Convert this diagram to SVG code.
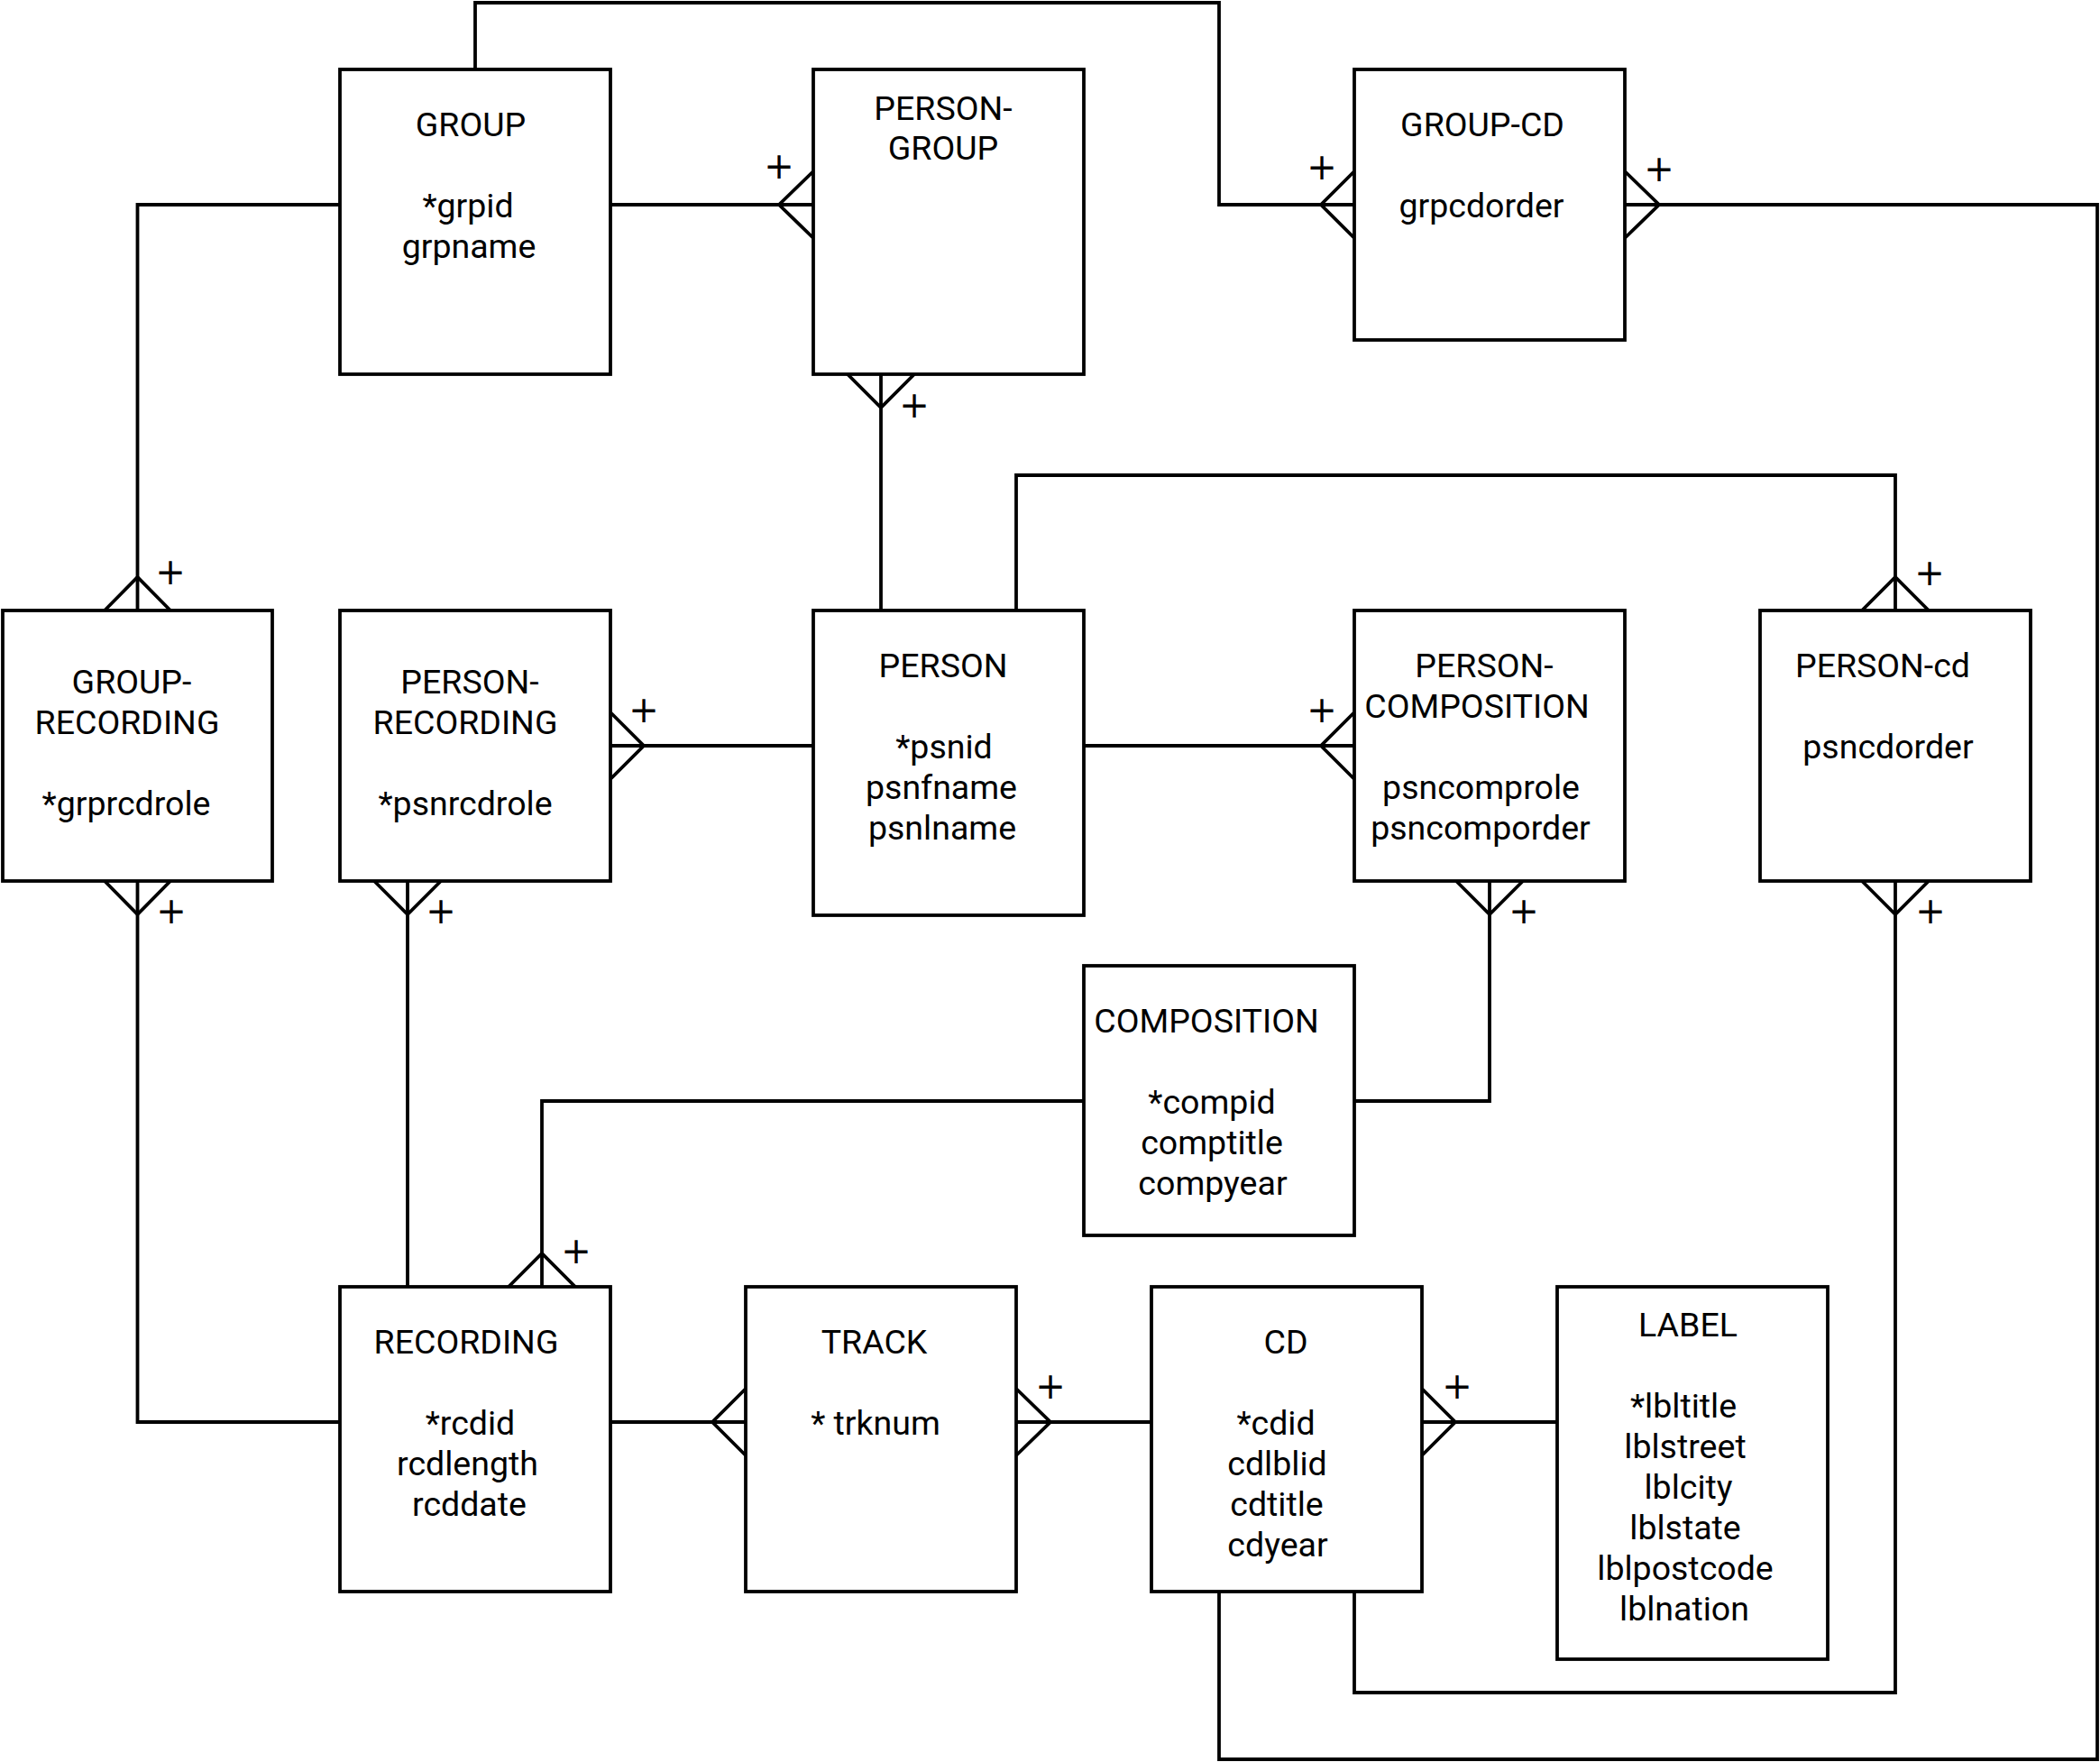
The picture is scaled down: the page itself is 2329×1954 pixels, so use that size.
<svg xmlns="http://www.w3.org/2000/svg" width="2329" height="1954" viewBox="0 0 2329 1954">
<style>
.box{fill:#fff;stroke:#000;stroke-width:3.8}
.ln{fill:none;stroke:#000;stroke-width:3.8;stroke-linejoin:miter;stroke-linecap:square}
.cr{fill:none;stroke:#000;stroke-width:3.8;stroke-linejoin:miter}
.t{font-family:Roboto,"Liberation Sans",sans-serif;font-size:37.5px;text-anchor:middle;fill:#000}
.p{font-family:"DejaVu Sans",sans-serif;font-size:40px;text-anchor:middle;fill:#000}
</style>
<rect width="2329" height="1954" fill="#fff"/>
<g id="connectors">
<path class="ln" d="M527 77 V3 H1352 V227 H1502"/>
<path class="ln" d="M677 227 H902"/>
<path class="ln" d="M377 227 H152.5 V677"/>
<path class="ln" d="M977 415 V677"/>
<path class="ln" d="M1127 677 V527 H2102 V677"/>
<path class="ln" d="M1802 227 H2326 V1951 H1352 V1765"/>
<path class="ln" d="M677 827 H902"/>
<path class="ln" d="M1202 827 H1502"/>
<path class="ln" d="M152.5 977 V1577 H377"/>
<path class="ln" d="M452 977 V1427"/>
<path class="ln" d="M1652 977 V1221 H1502"/>
<path class="ln" d="M1202 1221 H601 V1427"/>
<path class="ln" d="M677 1577 H827"/>
<path class="ln" d="M1127 1577 H1277"/>
<path class="ln" d="M1577 1577 H1727"/>
<path class="ln" d="M1502 1765 V1877 H2102 V977"/>
<path class="cr" d="M1502 190 L1465 227 L1502 264"/>
<path class="cr" d="M902 190 L864 227 L902 264"/>
<path class="cr" d="M116 677 L152.5 640 L189 677"/>
<path class="cr" d="M940 415 L977 452 L1014 415"/>
<path class="cr" d="M2065 677 L2102 640 L2139 677"/>
<path class="cr" d="M1802 190 L1840 227 L1802 264"/>
<path class="cr" d="M677 790 L714 827 L677 864"/>
<path class="cr" d="M1502 790 L1465 827 L1502 864"/>
<path class="cr" d="M116 977 L152.5 1014 L189 977"/>
<path class="cr" d="M415 977 L452 1014 L489 977"/>
<path class="cr" d="M1615 977 L1652 1014 L1689 977"/>
<path class="cr" d="M564 1427 L601 1390 L638 1427"/>
<path class="cr" d="M827 1540 L790 1577 L827 1614"/>
<path class="cr" d="M1127 1540 L1165 1577 L1127 1614"/>
<path class="cr" d="M1577 1540 L1614 1577 L1577 1614"/>
<path class="cr" d="M2065 977 L2102 1014 L2139 977"/>
<text class="p" x="1466" y="199">+</text>
<text class="p" x="864" y="198">+</text>
<text class="p" x="189" y="648">+</text>
<text class="p" x="1014" y="463">+</text>
<text class="p" x="2140" y="649">+</text>
<text class="p" x="1840" y="201">+</text>
<text class="p" x="714" y="801">+</text>
<text class="p" x="1466" y="801">+</text>
<text class="p" x="190" y="1024">+</text>
<text class="p" x="489" y="1024">+</text>
<text class="p" x="1690" y="1024">+</text>
<text class="p" x="2141" y="1024">+</text>
<text class="p" x="639" y="1401">+</text>
<text class="p" x="1165" y="1551">+</text>
<text class="p" x="1616" y="1551">+</text>
</g>
<g id="group">
<rect class="box" x="377" y="77" width="300" height="338"/>
<text class="t" x="522" y="150.5">GROUP</text>
<text class="t" x="519" y="241">*grpid</text>
<text class="t" x="520" y="286">grpname</text>
</g>
<g id="person-group">
<rect class="box" x="902" y="77" width="300" height="338"/>
<text class="t" x="1046" y="132.5">PERSON-</text>
<text class="t" x="1046" y="177">GROUP</text>
</g>
<g id="group-cd">
<rect class="box" x="1502" y="77" width="300" height="300"/>
<text class="t" x="1644" y="150.5">GROUP-CD</text>
<text class="t" x="1643" y="241">grpcdorder</text>
</g>
<g id="group-recording">
<rect class="box" x="3" y="677" width="299" height="300"/>
<text class="t" x="146" y="769">GROUP-</text>
<text class="t" x="141" y="814">RECORDING</text>
<text class="t" x="140" y="904">*grprcdrole</text>
</g>
<g id="person-recording">
<rect class="box" x="377" y="677" width="300" height="300"/>
<text class="t" x="521" y="769">PERSON-</text>
<text class="t" x="516" y="814">RECORDING</text>
<text class="t" x="516" y="904">*psnrcdrole</text>
</g>
<g id="person">
<rect class="box" x="902" y="677" width="300" height="338"/>
<text class="t" x="1046" y="750.5">PERSON</text>
<text class="t" x="1047" y="840.5">*psnid</text>
<text class="t" x="1044" y="885.5">psnfname</text>
<text class="t" x="1045" y="930.5">psnlname</text>
</g>
<g id="person-composition">
<rect class="box" x="1502" y="677" width="300" height="300"/>
<text class="t" x="1646" y="750.5">PERSON-</text>
<text class="t" x="1638" y="796">COMPOSITION</text>
<text class="t" x="1642.5" y="886">psncomprole</text>
<text class="t" x="1642" y="931">psncomporder</text>
</g>
<g id="person-cd">
<rect class="box" x="1952" y="677" width="300" height="300"/>
<text class="t" x="2088" y="750.5">PERSON-cd</text>
<text class="t" x="2094" y="840.5">psncdorder</text>
</g>
<g id="composition">
<rect class="box" x="1202" y="1071" width="300" height="299"/>
<text class="t" x="1338" y="1145">COMPOSITION</text>
<text class="t" x="1344" y="1235">*compid</text>
<text class="t" x="1344" y="1280">comptitle</text>
<text class="t" x="1345" y="1325">compyear</text>
</g>
<g id="recording">
<rect class="box" x="377" y="1427" width="300" height="338"/>
<text class="t" x="517" y="1500.5">RECORDING</text>
<text class="t" x="521.5" y="1590.5">*rcdid</text>
<text class="t" x="518.5" y="1635.5">rcdlength</text>
<text class="t" x="520.5" y="1680.5">rcddate</text>
</g>
<g id="track">
<rect class="box" x="827" y="1427" width="300" height="338"/>
<text class="t" x="969.5" y="1500.5">TRACK</text>
<text class="t" x="971" y="1590.5">* trknum</text>
</g>
<g id="cd">
<rect class="box" x="1277" y="1427" width="300" height="338"/>
<text class="t" x="1426" y="1500.5">CD</text>
<text class="t" x="1415" y="1590.5">*cdid</text>
<text class="t" x="1416.5" y="1635.5">cdlblid</text>
<text class="t" x="1416" y="1680.5">cdtitle</text>
<text class="t" x="1417" y="1725.5">cdyear</text>
</g>
<g id="label">
<rect class="box" x="1727" y="1427" width="300" height="413"/>
<text class="t" x="1872" y="1482">LABEL</text>
<text class="t" x="1867" y="1572">*lbltitle</text>
<text class="t" x="1869" y="1617">lblstreet</text>
<text class="t" x="1872.5" y="1662">lblcity</text>
<text class="t" x="1869" y="1707">lblstate</text>
<text class="t" x="1869" y="1752">lblpostcode</text>
<text class="t" x="1868" y="1797">lblnation</text>
</g>
</svg>
